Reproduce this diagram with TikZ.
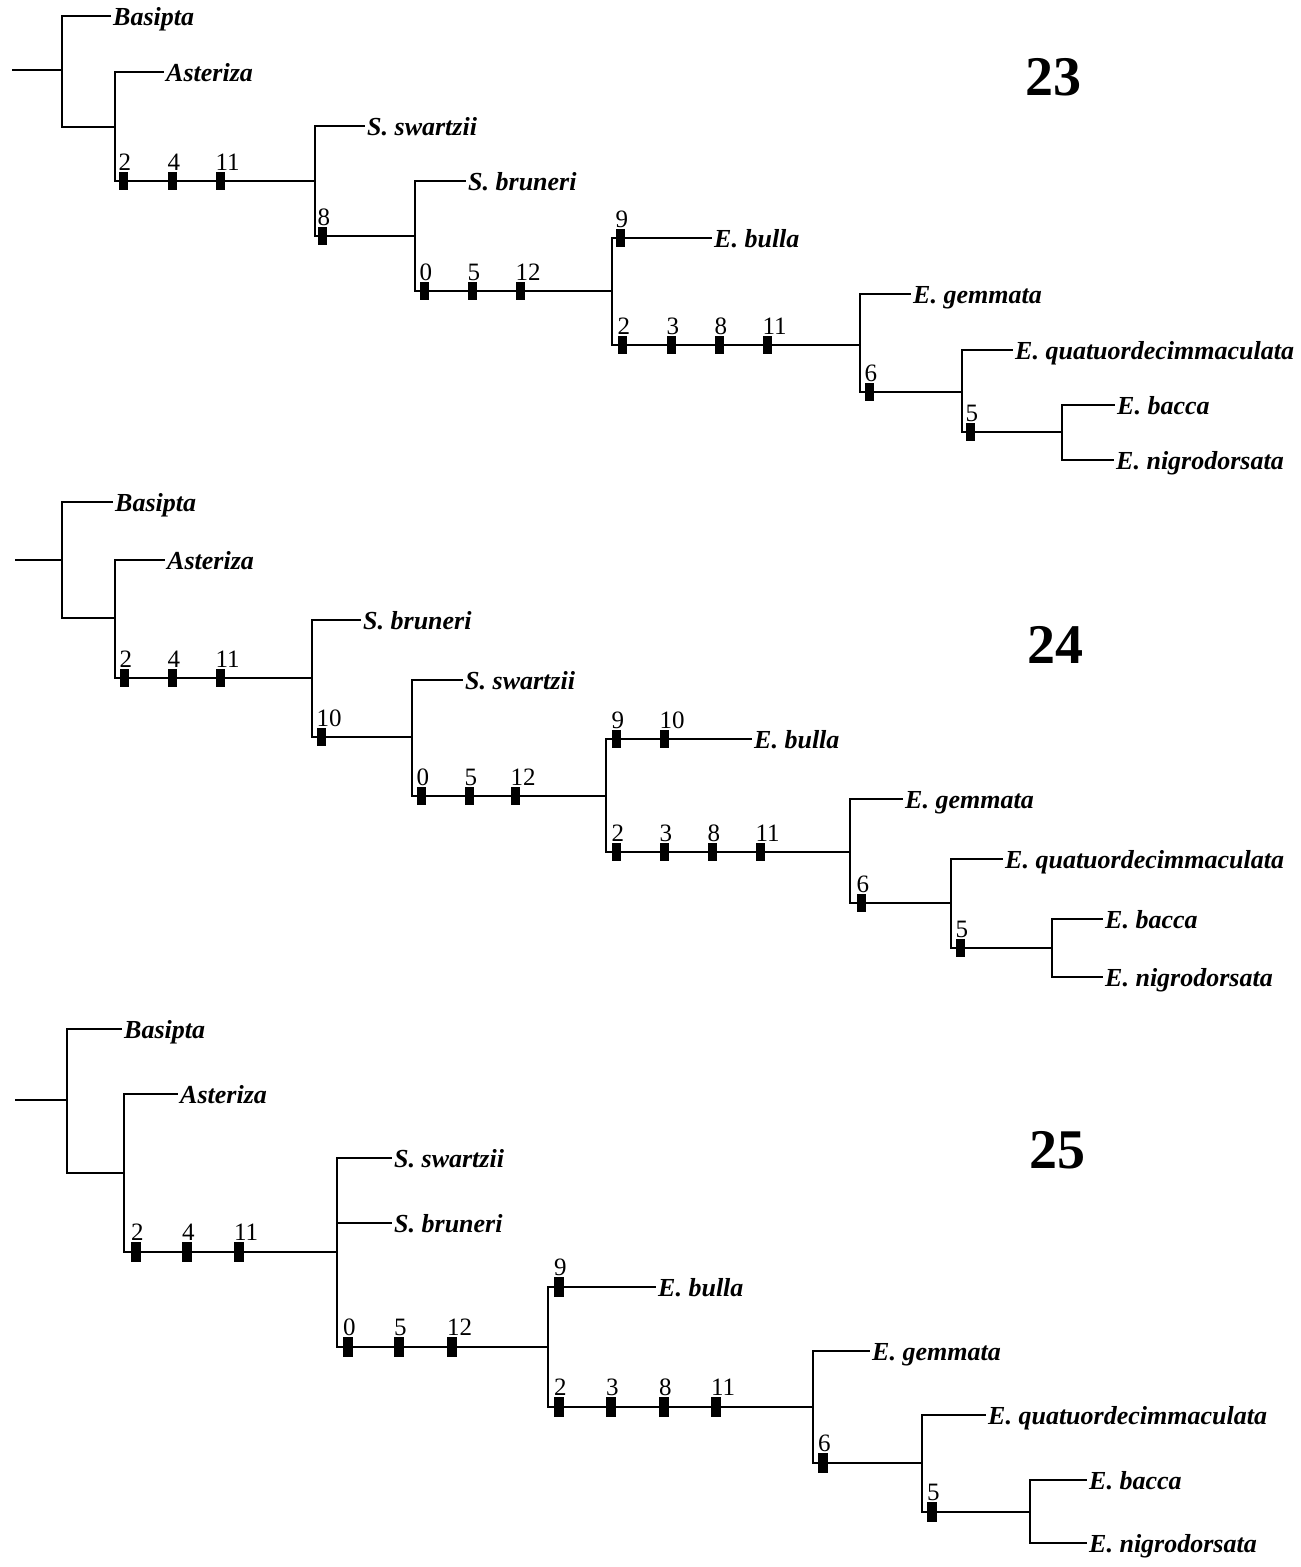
\documentclass[tikz,border=0pt]{standalone}
\usepackage{fontspec}
\setmainfont{Liberation Serif}
\usepackage{tikz}

\tikzset{
  br/.style={line width=1.1pt, black},
  leaf/.style={anchor=west, inner xsep=2pt, inner ysep=0pt, text height=18pt, text depth=0pt,
    font=\fontsize{26}{28}\selectfont\bfseries\itshape},
  mk/.style={rectangle, fill=black, inner sep=0pt, minimum width=9pt, minimum height=18pt},
  num/.style={anchor=south west, inner sep=0pt, yshift=1pt, font=\fontsize{25}{27}\selectfont},
  fig/.style={font=\fontsize{56}{60}\selectfont\bfseries}
}

\begin{document}
\begin{tikzpicture}[x=1pt, y=-1pt] % pixel units, y downwards
  \useasboundingbox (0,0) rectangle (1301,1567);

  % ---------- 23 ----------
  \coordinate (rA0) at (12,70);
  \coordinate (jA1) at (62,70);
  \coordinate (jA2) at (115,127);
  \coordinate (jA3) at (315,181);
  \coordinate (jA4) at (415,236);
  \coordinate (jA5) at (612,291);
  \coordinate (jA6) at (860,345);
  \coordinate (jA7) at (962,392);
  \coordinate (jA8) at (1062,432);
  \node[leaf] (basA) at (111,16) {Basipta};
  \node[leaf] (astA) at (164,72) {Asteriza};
  \node[leaf] (swaA) at (365,126) {S. swartzii};
  \node[leaf] (bruA) at (466,181) {S. bruneri};
  \node[leaf] (bulA) at (712,238) {E. bulla};
  \node[leaf] (gemA) at (911,294) {E. gemmata};
  \node[leaf] (quaA) at (1013,350) {E. quatuordecimmaculata};
  \node[leaf] (bacA) at (1115,405) {E. bacca};
  \node[leaf] (nigA) at (1114,460) {E. nigrodorsata};
  \draw[br] (rA0) -- (jA1);
  \draw[br] (jA1) |- (basA); \draw[br] (jA1) |- (jA2);
  \draw[br] (jA2) |- (astA); \draw[br] (jA2) |- (jA3);
  \draw[br] (jA3) |- (swaA); \draw[br] (jA3) |- (jA4);
  \draw[br] (jA4) |- (bruA); \draw[br] (jA4) |- (jA5);
  \draw[br] (jA5) |- (bulA); \draw[br] (jA5) |- (jA6);
  \draw[br] (jA6) |- (gemA); \draw[br] (jA6) |- (jA7);
  \draw[br] (jA7) |- (quaA); \draw[br] (jA7) |- (jA8);
  \draw[br] (jA8) |- (bacA); \draw[br] (jA8) |- (nigA);
  \foreach \i/\x/\y/\t in {1/123/181/2, 2/172/181/4, 3/220/181/11, 4/322/236/8,
      5/424/291/0, 6/472/291/5, 7/520/291/12, 8/620/238/9, 9/622/345/2,
      10/671/345/3, 11/719/345/8, 12/767/345/11, 13/869/392/6, 14/970/432/5}
    {\node[mk] (mA\i) at (\x,\y) {};
     \node[num] (nA\i) at (mA\i.north west) {\t};}
  \node[fig] (tA) at (1053,77) {23};

  % ---------- 24 ----------
  \coordinate (rB0) at (15,560);
  \coordinate (jB1) at (62,560);
  \coordinate (jB2) at (115,618);
  \coordinate (jB3) at (312,678);
  \coordinate (jB4) at (412,737);
  \coordinate (jB5) at (606,796);
  \coordinate (jB6) at (850,852);
  \coordinate (jB7) at (951,903);
  \coordinate (jB8) at (1052,948);
  \node[leaf] (basB) at (113,502) {Basipta};
  \node[leaf] (astB) at (165,560) {Asteriza};
  \node[leaf] (bruB) at (361,620) {S. bruneri};
  \node[leaf] (swaB) at (463,680) {S. swartzii};
  \node[leaf] (bulB) at (752,739) {E. bulla};
  \node[leaf] (gemB) at (903,799) {E. gemmata};
  \node[leaf] (quaB) at (1003,859) {E. quatuordecimmaculata};
  \node[leaf] (bacB) at (1103,919) {E. bacca};
  \node[leaf] (nigB) at (1103,977) {E. nigrodorsata};
  \draw[br] (rB0) -- (jB1);
  \draw[br] (jB1) |- (basB); \draw[br] (jB1) |- (jB2);
  \draw[br] (jB2) |- (astB); \draw[br] (jB2) |- (jB3);
  \draw[br] (jB3) |- (bruB); \draw[br] (jB3) |- (jB4);
  \draw[br] (jB4) |- (swaB); \draw[br] (jB4) |- (jB5);
  \draw[br] (jB5) |- (bulB); \draw[br] (jB5) |- (jB6);
  \draw[br] (jB6) |- (gemB); \draw[br] (jB6) |- (jB7);
  \draw[br] (jB7) |- (quaB); \draw[br] (jB7) |- (jB8);
  \draw[br] (jB8) |- (bacB); \draw[br] (jB8) |- (nigB);
  \foreach \i/\x/\y/\t in {1/124/678/2, 2/172/678/4, 3/220/678/11, 4/321/737/10,
      5/421/796/0, 6/469/796/5, 7/515/796/12, 8/616/739/9, 9/664/739/10,
      10/616/852/2, 11/664/852/3, 12/712/852/8, 13/760/852/11, 14/861/903/6,
      15/960/948/5}
    {\node[mk] (mB\i) at (\x,\y) {};
     \node[num] (nB\i) at (mB\i.north west) {\t};}
  \node[fig] (tB) at (1055,645) {24};

  % ---------- 25 ----------
  \coordinate (rC0) at (15,1100);
  \coordinate (jC1) at (67,1100);
  \coordinate (jC2) at (124,1173);
  \coordinate (jC3) at (337,1252);
  \coordinate (jC4) at (548,1347);
  \coordinate (jC5) at (813,1407);
  \coordinate (jC6) at (922,1463);
  \coordinate (jC7) at (1030,1512);
  \node[leaf] (basC) at (122,1029) {Basipta};
  \node[leaf] (astC) at (178,1094) {Asteriza};
  \node[leaf] (swaC) at (392,1158) {S. swartzii};
  \node[leaf] (bruC) at (392,1223) {S. bruneri};
  \node[leaf] (bulC) at (656,1287) {E. bulla};
  \node[leaf] (gemC) at (870,1351) {E. gemmata};
  \node[leaf] (quaC) at (986,1415) {E. quatuordecimmaculata};
  \node[leaf] (bacC) at (1087,1480) {E. bacca};
  \node[leaf] (nigC) at (1087,1543) {E. nigrodorsata};
  \draw[br] (rC0) -- (jC1);
  \draw[br] (jC1) |- (basC); \draw[br] (jC1) |- (jC2);
  \draw[br] (jC2) |- (astC); \draw[br] (jC2) |- (jC3);
  \draw[br] (jC3) |- (swaC); \draw[br] (jC3) |- (bruC); \draw[br] (jC3) |- (jC4);
  \draw[br] (jC4) |- (bulC); \draw[br] (jC4) |- (jC5);
  \draw[br] (jC5) |- (gemC); \draw[br] (jC5) |- (jC6);
  \draw[br] (jC6) |- (quaC); \draw[br] (jC6) |- (jC7);
  \draw[br] (jC7) |- (bacC); \draw[br] (jC7) |- (nigC);
  \foreach \i/\x/\y/\t in {1/136/1252/2, 2/187/1252/4, 3/239/1252/11,
      4/348/1347/0, 5/399/1347/5, 6/452/1347/12, 7/559/1287/9,
      8/559/1407/2, 9/611/1407/3, 10/664/1407/8, 11/716/1407/11,
      12/823/1463/6, 13/932/1512/5}
    {\node[mk, minimum width=10pt, minimum height=20pt] (mC\i) at (\x,\y) {};
     \node[num] (nC\i) at (mC\i.north west) {\t};}
  \node[fig] (tC) at (1057,1150) {25};
\end{tikzpicture}
\end{document}
